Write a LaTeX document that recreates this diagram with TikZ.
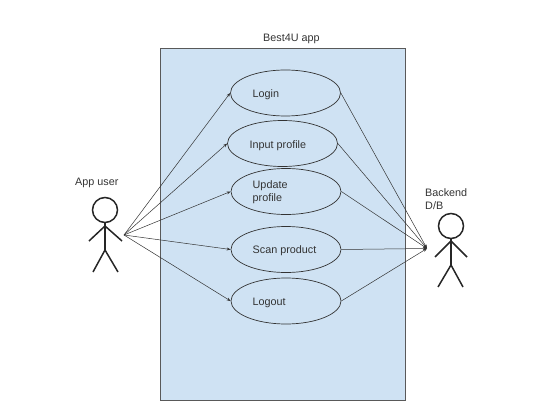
\documentclass[tikz,border=0pt]{standalone}
\usepackage{xcolor}
\usepackage{fontspec}
\setmainfont{Liberation Sans}
\usetikzlibrary{arrows.meta, shapes.geometric}
\definecolor{sysfill}{HTML}{CFE2F3}
\definecolor{edgegray}{HTML}{595959}
\definecolor{dark}{HTML}{333333}
\tikzset{
    sysbox/.style={
        rectangle, draw=edgegray, fill=sysfill, line width=0.9pt,
        minimum width=245pt, minimum height=352pt, inner sep=0pt
    },
    usecase/.style={
        ellipse, draw=dark, fill=sysfill, line width=0.7pt,
        minimum width=110pt, minimum height=46pt, inner sep=0pt
    },
    caselab/.style={
        font=\fontsize{10.8}{13}\selectfont, text=dark, align=left,
        anchor=west, inner sep=0pt
    },
    actorhead/.style={
        circle, draw=black!85, line width=1.5pt, minimum size=25pt, inner sep=0pt
    },
    actorline/.style={
        line width=1.5pt, draw=black!85
    },
    linkarrow/.style={
        -{Stealth[length=4pt, width=3pt]}, line width=0.5pt, color=dark
    },
}
\begin{document}
\begin{tikzpicture}[x=1pt, y=-1pt]
    \useasboundingbox (0,0) rectangle (560,420);

    % System box
    \node[sysbox] (app) at (282.5,224) {};
    \node[caselab] (applab) at (263,39) {Best4U app};

    % Use cases
    \node[usecase] (login) at (285.5,93) {};
    \node[usecase] (input) at (282.5,143.5) {};
    \node[usecase] (update) at (286,191.5) {};
    \node[usecase] (scan) at (286,249.5) {};
    \node[usecase] (logout) at (286,301) {};

    \node[caselab] (loginlab) at (252.5,94.5) {Login};
    \node[caselab] (inputlab) at (249.5,145.5) {Input profile};
    \node[caselab] (updatelab) at (252.5,192) {Update\\profile};
    \node[caselab] (scanlab) at (252.5,250.5) {Scan product};
    \node[caselab] (logoutlab) at (252.5,303) {Logout};

    % Left actor
    \node[actorhead] (userhead) at (105,210) {};
    \node[caselab] (userlab) at (75,182.5) {App user};
    \coordinate (userhip) at (105,250);
    \coordinate (userneck) at (105,226);
    \draw[actorline] (userhead.south) -- (userhip);
    \draw[actorline] (89,241) -- (userneck) -- (122,241);
    \draw[actorline] (93,272) -- (userhip) -- (118,272);
    \coordinate (userhub) at (124,235);

    % Right actor
    \node[actorhead] (dbhead) at (451,226) {};
    \node[caselab] (dblab) at (425,199.5) {Backend\\D/B};
    \coordinate (dbhip) at (451,265);
    \coordinate (dbneck) at (451,241);
    \draw[actorline] (dbhead.south) -- (dbhip);
    \draw[actorline] (435,257) -- (dbneck) -- (467,257);
    \draw[actorline] (438,287) -- (dbhip) -- (463,287);
    \coordinate (dbhub) at (427,248.5);

    % User links
    \draw[linkarrow] (userhub) -- (login.west);
    \draw[linkarrow] (userhub) -- (input.west);
    \draw[linkarrow] (userhub) -- (update.west);
    \draw[linkarrow] (userhub) -- (scan.west);
    \draw[linkarrow] (userhub) -- (logout.west);

    % Backend links
    \draw[linkarrow] (login.east) -- (dbhub);
    \draw[linkarrow] (input.east) -- (dbhub);
    \draw[linkarrow] (update.east) -- (dbhub);
    \draw[linkarrow] (scan.east) -- (dbhub);
    \draw[linkarrow] (logout.east) -- (dbhub);

\end{tikzpicture}
\end{document}
